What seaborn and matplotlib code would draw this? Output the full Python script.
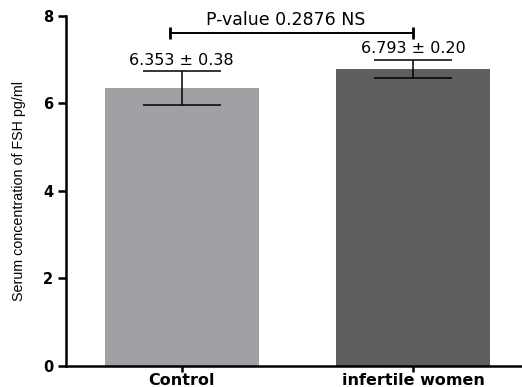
import numpy as np
import pandas as pd
import matplotlib
matplotlib.use("Agg")
import matplotlib.pyplot as plt
import seaborn as sns

# data
groups = ["Control", "infertile women"]
means = [6.353, 6.793]
sems = [0.38, 0.20]
labels = ["6.353 ± 0.38", "6.793 ± 0.20"]
bar_colors = ["#A09FA4", "#5F5F5F"]
p_text = "P-value 0.2876 NS"
p_level = 7.61

sns.set_style("ticks")
plt.rcParams['font.family'] = ['DejaVu Sans']
plt.rcParams['text.color'] = 'black'
plt.rcParams['axes.labelcolor'] = 'black'
plt.rcParams['axes.edgecolor'] = 'black'
plt.rcParams['xtick.color'] = 'black'
plt.rcParams['ytick.color'] = 'black'

df = pd.DataFrame({"group": groups, "mean": means})

fig = plt.figure(figsize=(5.22, 3.87), dpi=100)
ax = fig.add_axes([0.1264, 0.0543, 0.8736, 0.9044])

sns.barplot(data=df, x="group", y="mean", hue="group", palette=bar_colors,
            width=0.664, errorbar=None, legend=False, ax=ax, saturation=1,
            edgecolor="none")

pos = np.arange(len(groups))
ax.errorbar(pos, means, yerr=sems, fmt="none", ecolor="black",
            elinewidth=1.1, capsize=28, capthick=1.1)

for x, m, s, t in zip(pos, means, sems, labels):
    ax.text(x, m + s + 0.26, t, ha="center", va="center", fontsize=11.5)

# significance bracket
ax.plot([-0.052, 1.0], [p_level, p_level], color="black", lw=1.4)
ax.plot([-0.052, 1.0], [p_level, p_level], linestyle="none", marker="|",
        markersize=8, markeredgewidth=2, color="black")
ax.text(0.45, 7.9, p_text, ha="center", va="center", fontsize=12.5)

ax.set_xlim(-0.5, 1.47)
ax.set_ylim(0, 8)
ax.set_yticks([0, 2, 4, 6, 8])
ax.set_xlabel("")
ax.set_ylabel("Serum concentration of FSH pg/ml", fontsize=10.3,
              family=['Liberation Sans Narrow', 'Liberation Sans'])
ax.yaxis.set_label_coords(-0.088, 0.5)

for lab in ax.get_yticklabels():
    lab.set_fontweight("bold")
    lab.set_fontsize(10.5)
for lab in ax.get_xticklabels():
    lab.set_fontweight("bold")
    lab.set_fontsize(11.5)

sns.despine(ax=ax)
ax.spines["left"].set_linewidth(1.8)
ax.spines["bottom"].set_linewidth(1.8)
ax.tick_params(axis="y", length=6, width=1.8, pad=3)
ax.tick_params(axis="x", length=4, width=1.8, pad=1)

fig.savefig("out.png", dpi=100)
